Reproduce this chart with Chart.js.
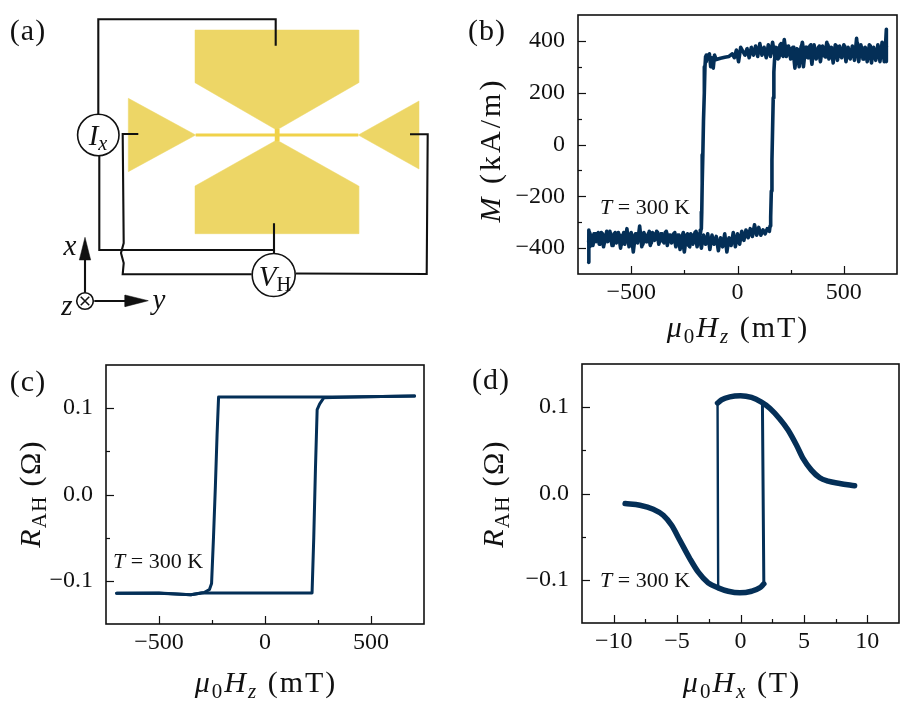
<!DOCTYPE html>
<html>
<head>
<meta charset="utf-8">
<script src="https://cdn.jsdelivr.net/npm/chart.js@4"></script>
<style>
html, body { margin: 0; padding: 0; background: #fff; overflow: hidden; }
body { width: 915px; height: 704px; position: relative; font-family: "Liberation Serif", serif; color: #111; }
canvas { position: absolute; }
.lbl { position: absolute; white-space: nowrap; line-height: 1; }
.lbl sub { font-size: .7em; line-height: 0; vertical-align: -.28em; }
</style>
</head>
<body>
<canvas id="panelA" width="450" height="330"></canvas>
<canvas id="panelB"></canvas>
<canvas id="panelC"></canvas>
<canvas id="panelD"></canvas>
<script>
const LINE = '#042f57';
const GOLD = '#edd666';

// (b) magnetisation, sweep up
const upFieldB = [-700,-699,-695,-690,-680,-670,-660,-650,-640,-630,-620,-610,-600,-590,-580,-570,-560,-550,-540,-530,-520,-510,-500,-490,-480,-470,-460,-450,-440,-430,-420,-410,-400,-390,-380,-370,-360,-350,-340,-330,-320,-310,-300,-290,-280,-270,-260,-250,-240,-230,-220,-210,-200,-190,-180,-170,-160,-150,-140,-130,-120,-110,-100,-90,-80,-70,-60,-50,-40,-30,-20,-10,0,10,20,30,40,50,60,70,80,90,100,110,120,130,140,150,153,156,159,162,165,168,171,174,180,190,200,210,220,230,240,250,260,270,280,290,300,310,320,330,340,350,360,370,380,390,400,410,420,430,440,450,460,470,480,490,500,510,520,530,540,550,560,570,580,590,600,610,620,630,640,650,660,670,680,690,695,700,700];
const upM = [-455,-330,-395,-350,-390,-345,-345,-385,-340,-395,-350,-375,-335,-390,-345,-380,-340,-400,-350,-385,-325,-395,-340,-415,-345,-380,-315,-395,-340,-375,-345,-390,-340,-370,-335,-385,-345,-375,-340,-390,-350,-380,-345,-395,-350,-405,-360,-415,-350,-390,-345,-385,-340,-395,-345,-400,-350,-385,-345,-405,-350,-385,-355,-410,-360,-395,-345,-415,-360,-390,-340,-395,-345,-385,-335,-370,-330,-360,-325,-355,-310,-350,-320,-350,-330,-345,-325,-335,-315,-280,-180,-60,60,180,280,325,375,330,385,345,405,340,380,330,375,295,370,300,380,300,375,335,380,310,385,330,375,320,380,340,395,330,375,315,385,325,380,335,385,320,375,330,380,325,410,320,385,330,375,320,385,315,375,325,385,320,395,320,370,445,320];

// (b) magnetisation, sweep down
const downFieldB = [700,695,685,675,665,655,645,635,625,615,605,595,585,575,565,555,545,535,525,515,505,495,485,475,465,455,445,435,425,415,405,395,385,375,365,355,345,335,325,315,305,295,285,275,265,255,245,235,225,215,205,195,185,175,165,155,145,135,125,115,105,95,85,75,65,55,45,35,25,15,5,-5,-15,-25,-40,-60,-80,-100,-108,-114,-120,-126,-132,-138,-144,-147,-150,-153,-156,-160,-163,-166,-168,-170,-172,-175,-185,-195,-205,-215,-225,-235,-245,-255,-265,-275,-285,-295,-305,-315,-325,-335,-345,-355,-365,-375,-385,-395,-405,-415,-425,-435,-445,-455,-465,-475,-485,-495,-505,-515,-525,-535,-545,-555,-565,-575,-585,-595,-605,-615,-625,-635,-645,-655,-665,-675,-685,-695,-700];
const downM = [380,345,370,335,375,350,365,340,380,345,370,330,375,350,390,340,372,345,365,335,378,345,370,340,380,335,372,350,385,338,370,345,380,340,368,345,385,335,375,340,395,350,365,345,375,335,370,348,380,340,390,335,372,345,395,340,385,335,375,345,390,340,380,345,375,335,370,345,360,375,320,365,335,350,340,337,333,328,345,295,335,300,350,330,345,320,340,300,200,90,-40,-150,-260,-325,-330,-345,-380,-335,-375,-350,-395,-345,-385,-340,-370,-350,-385,-340,-375,-350,-365,-335,-380,-345,-375,-340,-360,-345,-380,-335,-375,-350,-385,-340,-370,-345,-380,-350,-390,-345,-375,-340,-385,-350,-375,-340,-390,-345,-370,-335,-380,-345,-385,-340,-375,-345,-390,-340,-375];

// (c) anomalous Hall resistance against Hz
const upFieldC = [-700,-500,-350,-300,-100,100,222,230,238,246,258,277,400,550,705];
const upRc = [-0.1143,-0.1140,-0.1160,-0.1140,-0.1140,-0.1140,-0.1140,-0.0500,0.0300,0.0984,0.1050,0.1120,0.1130,0.1135,0.1140];
const downFieldC = [705,400,200,0,-150,-219,-226,-234,-243,-252,-262,-287,-350,-500,-700];
const downRc = [0.1140,0.1130,0.1130,0.1128,0.1128,0.1128,0.0700,0.0100,-0.0500,-0.1030,-0.1100,-0.1136,-0.1160,-0.1143,-0.1143];

// (d) anomalous Hall resistance against Hx
const topFieldD = [-1.81,-1.5,-0.84,0,0.87,1.65,2.31,3.1,3.75,4.41,4.93,5.59,6.25,6.9,7.82,9.0];
const topRd = [0.1047,0.1085,0.112,0.1132,0.1112,0.1058,0.0988,0.0864,0.0736,0.0562,0.0407,0.0271,0.0182,0.0143,0.0116,0.0089];
const lowFieldD = [-9.1,-7.93,-6.88,-6.09,-5.43,-4.78,-3.99,-3.33,-2.55,-1.76,-0.97,-0.05,0.87,1.52,1.84];
const lowRd = [-0.0116,-0.0136,-0.0182,-0.0252,-0.0368,-0.0543,-0.0756,-0.0911,-0.1035,-0.1093,-0.1132,-0.1151,-0.1132,-0.1093,-0.1047];
const leftJumpField = [-1.81,-1.76];
const leftJumpR = [0.1047,-0.1085];
const rightJumpField = [1.73,1.84];
const rightJumpR = [0.1027,-0.1047];

// tick values
const fieldTicksMt = [-500,0,500];
const fieldMinorMt = [-250,250];
const momentTicks = [-400,-200,0,200,400];
const momentMinor = [-300,-100,100,300];
const hallTicks = [-0.1,0,0.1];
const hallMinor = [-0.05,0.05];
const fieldTicksT = [-10,-5,0,5,10];
const fieldMinorT = [-7.5,-2.5,2.5,7.5];

// (a) device outline and wiring, in the schematic's own units
const topPadX = [195,358.7,358.7,276.7,195,195];
const topPadY = [30,30,82.7,130,82.7,30];
const lowPadX = [195,276.7,358.7,358.7,195,195];
const lowPadY = [186,140,186,233.7,233.7,186];
const leftTriX = [128.3,195.7,128.3,128.3];
const leftTriY = [98.3,135,171.7,98.3];
const rightTriX = [419,358.3,419,419];
const rightTriY = [101,135,169,101];
const barX = [195.7,358.3];
const barY = [135,135];
const neckX = [275,279,279,275,275];
const neckY = [129,129,141,141,129];
const wire1X = [98.3,98.3,275.7,275.7];
const wire1Y = [115,19.3,19.3,45.7];
const wire2X = [99.3,99.3,274,274];
const wire2Y = [155.7,250,250,223.3];
const wire2bX = [274,274];
const wire2bY = [250,254];
const wire3X = [138.3,122.7,123.7,121,123.7,122.7,251.7];
const wire3Y = [134,134,243,253,263,274.3,274.3];
const wire4X = [410,427.7,426.7,296];
const wire4Y = [134.3,134.3,274,273.5];
const axisXx = [85,85];
const axisXy = [293,255];
const headXx = [85,79.3,90.7,85];
const headXy = [237.3,260,260,237.3];
const axisYx = [94.3,127];
const axisYy = [301,301];
const headYx = [148.3,125,125,148.3];
const headYy = [300.7,295,306.7,300.7];

Chart.defaults.font.family = '"Liberation Serif", serif';
Chart.defaults.color = '#111';

const pts = (xs, ys) => xs.map((x, i) => ({ x: x, y: ys[i] }));
const fmtMinus = v => String(v).replace('-', '\u2212');

// inward ticks and the box round the plot
const framePlugin = {
    id: 'frame',
    afterDatasetsDraw(chart, args, opts) {
        const { ctx, chartArea: a, scales } = chart;
        ctx.save();
        ctx.strokeStyle = '#111';
        ctx.lineWidth = 1.2;
        const tick = (scale, vals, len) => vals.forEach(v => {
            const p = Math.round(scale.getPixelForValue(v)) + 0.5;
            ctx.beginPath();
            if (scale.axis === 'x') { ctx.moveTo(p, a.bottom); ctx.lineTo(p, a.bottom - len); }
            else { ctx.moveTo(a.left, p); ctx.lineTo(a.left + len, p); }
            ctx.stroke();
        });
        tick(scales.x, opts.xTicks, 8);
        tick(scales.x, opts.xMinor, 4);
        tick(scales.y, opts.yTicks, 8);
        tick(scales.y, opts.yMinor, 4);
        ctx.lineWidth = 1.6;
        ctx.strokeRect(a.left, a.top, a.right - a.left, a.bottom - a.top);
        ctx.restore();
    }
};

function plotPanel(id, box, datasets, xr, yr, xTicks, xMinor, yTicks, yMinor, yFmt) {
    const gutter = 72, pad = 15, under = 52;
    const cv = document.getElementById(id);
    cv.width = box.r - box.l + gutter + pad;
    cv.height = box.b - box.t + pad + under;
    cv.style.left = (box.l - gutter) + 'px';
    cv.style.top = (box.t - pad) + 'px';
    new Chart(cv, {
        type: 'scatter',
        data: { datasets: datasets },
        plugins: [framePlugin],
        options: {
            responsive: false,
            animation: false,
            layout: { autoPadding: false, padding: { top: pad, right: pad } },
            plugins: {
                legend: { display: false },
                tooltip: { enabled: false },
                frame: { xTicks: xTicks, xMinor: xMinor, yTicks: yTicks, yMinor: yMinor }
            },
            elements: { point: { radius: 0 }, line: { borderColor: LINE, borderCapStyle: 'round', borderJoinStyle: 'round', tension: 0 } },
            scales: {
                x: {
                    type: 'linear', min: xr[0], max: xr[1],
                    grid: { display: false, drawTicks: false }, border: { display: false },
                    afterBuildTicks: s => { s.ticks = xTicks.map(v => ({ value: v })); },
                    afterFit: s => { s.height = under; s.paddingLeft = 0; s.paddingRight = 0; },
                    ticks: { font: { size: 24 }, padding: 4, maxRotation: 0, autoSkip: false, callback: fmtMinus }
                },
                y: {
                    min: yr[0], max: yr[1],
                    grid: { display: false, drawTicks: false }, border: { display: false },
                    afterBuildTicks: s => { s.ticks = yTicks.map(v => ({ value: v })); },
                    afterFit: s => { s.width = gutter; s.paddingTop = 0; s.paddingBottom = 0; },
                    ticks: { font: { size: 24 }, padding: 13, autoSkip: false, callback: yFmt }
                }
            }
        }
    });
}

function wire(xs, ys) {
    return { data: pts(xs, ys), showLine: true, borderColor: '#111', borderWidth: 2.1, pointRadius: 0, borderCapStyle: 'butt', borderJoinStyle: 'miter' };
}
function shape(xs, ys, color) {
    return { data: pts(xs, ys), showLine: true, fill: 'shape', backgroundColor: color, borderColor: color, borderWidth: 0.5, pointRadius: 0 };
}
function dot(x, y, r, style) {
    return { data: [{ x: x, y: y }], showLine: false, pointRadius: r, pointStyle: style, pointBackgroundColor: '#fff', pointBorderColor: '#111', pointBorderWidth: 1.6 };
}

// the first dataset ends up on top
new Chart(document.getElementById('panelA'), {
    type: 'scatter',
    data: {
        datasets: [
            dot(98.3, 135, 20.7, 'circle'),
            dot(273.7, 275, 21.5, 'circle'),
            dot(85, 301, 6, 'crossRot'),
            dot(85, 301, 8.3, 'circle'),
            shape(headXx, headXy, '#111'),
            shape(headYx, headYy, '#111'),
            wire(axisXx, axisXy),
            wire(axisYx, axisYy),
            wire(wire1X, wire1Y),
            wire(wire2X, wire2Y),
            wire(wire2bX, wire2bY),
            wire(wire3X, wire3Y),
            wire(wire4X, wire4Y),
            { data: pts(barX, barY), showLine: true, borderColor: '#f0d24a', borderWidth: 2.8, pointRadius: 0 },
            shape(neckX, neckY, '#f0d24a'),
            shape(topPadX, topPadY, GOLD),
            shape(lowPadX, lowPadY, GOLD),
            shape(leftTriX, leftTriY, GOLD),
            shape(rightTriX, rightTriY, GOLD)
        ]
    },
    options: {
        responsive: false,
        animation: false,
        layout: { autoPadding: false, padding: 0 },
        plugins: { legend: { display: false }, tooltip: { enabled: false } },
        scales: {
            x: { type: 'linear', display: false, min: 0, max: 450 },
            y: { display: false, min: 0, max: 330, reverse: true }
        }
    }
});

plotPanel('panelB', { l: 578, t: 15, r: 897, b: 274 }, [
    { data: pts(upFieldB, upM), showLine: true, borderWidth: 3.6 },
    { data: pts(downFieldB, downM), showLine: true, borderWidth: 3.6 }
], [-750, 750], [-500, 500], fieldTicksMt, fieldMinorMt, momentTicks, momentMinor, fmtMinus);

plotPanel('panelC', { l: 106, t: 365, r: 424, b: 624 }, [
    { data: pts(upFieldC, upRc), showLine: true, borderWidth: 3 },
    { data: pts(downFieldC, downRc), showLine: true, borderWidth: 3 }
], [-750, 750], [-0.15, 0.15], fieldTicksMt, fieldMinorMt, hallTicks, hallMinor, v => fmtMinus(v.toFixed(1)));

plotPanel('panelD', { l: 582, t: 364, r: 899, b: 623 }, [
    { data: pts(topFieldD, topRd), showLine: true, borderWidth: 5.5, cubicInterpolationMode: 'monotone' },
    { data: pts(lowFieldD, lowRd), showLine: true, borderWidth: 5.5, cubicInterpolationMode: 'monotone' },
    { data: pts(leftJumpField, leftJumpR), showLine: true, borderWidth: 2.4 },
    { data: pts(rightJumpField, rightJumpR), showLine: true, borderWidth: 3 }
], [-12.5, 12.5], [-0.15, 0.15], fieldTicksT, fieldMinorT, hallTicks, hallMinor, v => fmtMinus(v.toFixed(1)));

// text the axis titles can't do with one font: italics and subscripts
function label(html, cx, cy, size, rot, spacing) {
    const d = document.createElement('div');
    d.className = 'lbl';
    d.innerHTML = html;
    d.style.left = cx + 'px';
    d.style.top = cy + 'px';
    d.style.fontSize = size + 'px';
    if (spacing) d.style.letterSpacing = spacing + 'px';
    d.style.transform = 'translate(-50%,-50%)' + (rot ? ' rotate(' + rot + 'deg)' : '');
    document.body.appendChild(d);
}
label('(a)', 28, 30, 30, 0, 1);
label('(b)', 487, 30, 30, 0, 1);
label('(c)', 28, 381, 30, 0, 1);
label('(d)', 491, 379, 30, 0, 1);
label('<i>I</i><sub><i>x</i></sub>', 98, 135, 29);
label('<i>V</i><sub>H</sub>', 275, 276, 29);
label('<i>x</i>', 70, 245, 29);
label('<i>y</i>', 159, 299, 29);
label('<i>z</i>', 67, 305, 29);
const muZ = '<i>\u03bc</i><sub>0</sub><i>H</i><sub><i>z</i></sub>';
const muX = '<i>\u03bc</i><sub>0</sub><i>H</i><sub><i>x</i></sub>';
label(muZ + ' (mT)', 738, 327, 30, 0, 2);
label(muZ + ' (mT)', 266, 682, 30, 0, 2);
label(muX + ' (T)', 742, 682, 30, 0, 2);
label('<i>M</i> (kA/m)', 490, 150, 30, -90, 3);
label('<i>R</i><sub>AH</sub> (\u03a9)', 30, 494, 30, -90, 1.3);
label('<i>R</i><sub>AH</sub> (\u03a9)', 493, 494, 30, -90, 1.3);
label('<i>T</i> = 300 K', 645, 207, 22);
label('<i>T</i> = 300 K', 158, 561, 22);
label('<i>T</i> = 300 K', 645, 580, 22);
</script>
</body>
</html>
